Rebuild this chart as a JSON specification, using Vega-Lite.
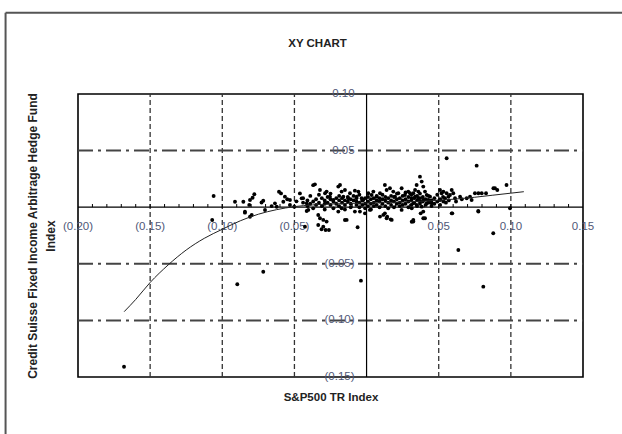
{
  "$schema": "https://vega.github.io/schema/vega-lite/v6.json",
  "width": 505,
  "height": 283,
  "autosize": "none",
  "padding": {"left": 78, "top": 94, "right": 39, "bottom": 57},
  "background": "white",
  "title": {"text": "XY CHART", "font": "Liberation Sans", "fontSize": 11.5, "fontWeight": "bold", "color": "#222", "frame": "group", "anchor": "middle", "offset": -38, "dx": -13},
  "config": {
    "view": {"stroke": "#000", "strokeWidth": 1.6},
    "axis": {"domain": false, "ticks": false, "labels": false, "grid": false, "titleFont": "Liberation Sans", "titleFontWeight": "bold", "titleColor": "#222"},
    "axisX": {"titleFontSize": 11.5, "titlePadding": 14},
    "axisY": {"titleFontSize": 12, "titlePadding": 21, "titleLineHeight": 18}
  },
  "datasets": {
    "curve": [
      {"x": -0.168, "y": -0.0923}, {"x": -0.16, "y": -0.0815}, {"x": -0.15, "y": -0.0665}, {"x": -0.1375, "y": -0.051},
      {"x": -0.125, "y": -0.0378}, {"x": -0.1125, "y": -0.0275}, {"x": -0.1, "y": -0.0195}, {"x": -0.0875, "y": -0.012},
      {"x": -0.075, "y": -0.0062}, {"x": -0.0625, "y": -0.0022}, {"x": -0.05, "y": 0.0005}, {"x": -0.0375, "y": 0.002},
      {"x": -0.025, "y": 0.0028}, {"x": -0.0125, "y": 0.0033}, {"x": 0, "y": 0.0037}, {"x": 0.0125, "y": 0.0041},
      {"x": 0.025, "y": 0.0046}, {"x": 0.0375, "y": 0.0052}, {"x": 0.05, "y": 0.0061}, {"x": 0.0625, "y": 0.0073},
      {"x": 0.075, "y": 0.0088}, {"x": 0.0875, "y": 0.0106}, {"x": 0.1, "y": 0.0124}, {"x": 0.109, "y": 0.0137}
    ],
    "pts": [
      {"x": -0.106, "y": 0.0099}, {"x": -0.107, "y": -0.0113}, {"x": -0.0912, "y": 0.0048}, {"x": -0.0854, "y": 0.0048},
      {"x": -0.0843, "y": -0.004}, {"x": -0.0813, "y": 0.002}, {"x": -0.0808, "y": 0.0064}, {"x": -0.079, "y": 0.0084},
      {"x": -0.0778, "y": 0.0114}, {"x": -0.0796, "y": -0.0069}, {"x": -0.0716, "y": 0.0057}, {"x": -0.0704, "y": -0.0025},
      {"x": -0.0658, "y": 0.001}, {"x": -0.0635, "y": 0.0034}, {"x": -0.0623, "y": 0.0004}, {"x": -0.0607, "y": 0.0137},
      {"x": -0.0593, "y": 0.0122}, {"x": -0.0577, "y": 0.0048}, {"x": -0.0566, "y": 0.0093}, {"x": -0.055, "y": 0.007},
      {"x": -0.0531, "y": 0.0064}, {"x": -0.0531, "y": 0.0019}, {"x": -0.0501, "y": 0.0004}, {"x": -0.0462, "y": 0.0122},
      {"x": -0.045, "y": 0.0078}, {"x": -0.0427, "y": -0.0172}, {"x": -0.0415, "y": 0.0034}, {"x": -0.037, "y": 0.0195},
      {"x": -0.0335, "y": -0.0069}, {"x": -0.0843, "y": -0.0048}, {"x": -0.0808, "y": -0.0084}, {"x": -0.0728, "y": 0.0042},
      {"x": -0.0486, "y": 0.0052},
      {"x": -0.1681, "y": -0.1409}, {"x": -0.0896, "y": -0.0681}, {"x": -0.0716, "y": -0.057}, {"x": -0.0039, "y": -0.0649},
      {"x": 0.0636, "y": -0.0378}, {"x": 0.0809, "y": -0.0702}, {"x": 0.0878, "y": -0.023}, {"x": 0.0555, "y": 0.0432},
      {"x": 0.0763, "y": 0.0367}, {"x": 0.0594, "y": -0.0054}, {"x": 0.0774, "y": -0.0034},
      {"x": -0.0323, "y": -0.0098}, {"x": -0.03, "y": -0.0112}, {"x": -0.0277, "y": -0.0127}, {"x": -0.0335, "y": -0.0157},
      {"x": -0.0312, "y": -0.0195}, {"x": -0.0284, "y": -0.0201}, {"x": -0.0261, "y": -0.0201}, {"x": -0.03, "y": -0.0172},
      {"x": -0.0062, "y": -0.0177},
      {"x": -0.0404, "y": -0.0024}, {"x": -0.0196, "y": -0.0039}, {"x": -0.0173, "y": -0.0009}, {"x": -0.0138, "y": -0.0112},
      {"x": -0.0081, "y": -0.0039}, {"x": -0.0046, "y": -0.0039}, {"x": -0.0011, "y": -0.0054}, {"x": 0.0023, "y": -0.0024},
      {"x": 0.0093, "y": -0.0083}, {"x": 0.0116, "y": -0.0068}, {"x": 0.0139, "y": -0.0098}, {"x": 0.0174, "y": -0.0112},
      {"x": 0.0127, "y": -0.0054}, {"x": 0.0243, "y": -0.0024}, {"x": 0.0324, "y": -0.0127}, {"x": 0.0143, "y": -0.0084},
      {"x": 0.0167, "y": -0.0107}, {"x": 0.0313, "y": -0.0128}, {"x": 0.0375, "y": -0.0054}, {"x": 0.0393, "y": -0.0098},
      {"x": -0.015, "y": -0.0113}, {"x": -0.0415, "y": -0.0034},
      {"x": -0.0358, "y": 0.0202}, {"x": -0.0323, "y": 0.0152}, {"x": -0.0288, "y": 0.0123}, {"x": -0.0277, "y": 0.0138},
      {"x": -0.0254, "y": 0.0093}, {"x": -0.0231, "y": 0.0064}, {"x": -0.0196, "y": 0.0182}, {"x": -0.0184, "y": 0.0196},
      {"x": -0.0173, "y": 0.0138}, {"x": -0.0161, "y": 0.0093}, {"x": -0.015, "y": 0.0152}, {"x": -0.0127, "y": 0.0079},
      {"x": -0.0115, "y": 0.0123}, {"x": -0.0081, "y": 0.0146}, {"x": -0.0069, "y": 0.0093}, {"x": -0.0057, "y": 0.0138},
      {"x": -0.0034, "y": 0.0079}, {"x": -0.0023, "y": 0.0064}, {"x": 0.0012, "y": 0.0123}, {"x": 0.0035, "y": 0.0108},
      {"x": 0.0047, "y": 0.0138}, {"x": 0.007, "y": 0.0093}, {"x": 0.0093, "y": 0.0123}, {"x": 0.0127, "y": 0.0196},
      {"x": 0.0139, "y": 0.0152}, {"x": 0.0162, "y": 0.0167}, {"x": 0.0185, "y": 0.0138}, {"x": 0.0197, "y": 0.0093},
      {"x": 0.022, "y": 0.0123}, {"x": 0.0243, "y": 0.0167}, {"x": 0.0266, "y": 0.0108}, {"x": 0.0289, "y": 0.0138},
      {"x": 0.0312, "y": 0.0079}, {"x": 0.0324, "y": 0.0123},
      {"x": 0.037, "y": 0.027}, {"x": 0.0382, "y": 0.0226}, {"x": 0.0347, "y": 0.0196}, {"x": 0.0393, "y": 0.0182},
      {"x": 0.0405, "y": 0.0138}, {"x": 0.0336, "y": 0.0152}, {"x": 0.0417, "y": 0.0108}, {"x": 0.0359, "y": 0.0079},
      {"x": 0.0428, "y": 0.0064}, {"x": 0.0324, "y": 0.0035}, {"x": 0.0382, "y": 0.0005}, {"x": 0.0313, "y": -0.001},
      {"x": 0.0393, "y": -0.0039}, {"x": 0.0405, "y": -0.0098}, {"x": 0.0324, "y": -0.0112}, {"x": 0.0301, "y": 0.0123},
      {"x": 0.044, "y": 0.0093}, {"x": 0.0451, "y": 0.0035}, {"x": 0.0359, "y": 0.0138}, {"x": 0.0336, "y": 0.0093},
      {"x": 0.0393, "y": 0.0064}, {"x": 0.0417, "y": 0.0035}, {"x": 0.0347, "y": 0.002}, {"x": 0.037, "y": 0.005},
      {"x": 0.0509, "y": 0.0152}, {"x": 0.052, "y": 0.0123}, {"x": 0.0532, "y": 0.0138}, {"x": 0.0555, "y": 0.0123},
      {"x": 0.0578, "y": 0.0108}, {"x": 0.059, "y": 0.0152}, {"x": 0.0601, "y": 0.0123}, {"x": 0.0544, "y": 0.0079},
      {"x": 0.0567, "y": 0.0093}, {"x": 0.0509, "y": 0.0064}, {"x": 0.0532, "y": 0.005}, {"x": 0.0613, "y": 0.0079},
      {"x": 0.059, "y": -0.0054}, {"x": 0.0648, "y": 0.0093}, {"x": 0.0694, "y": 0.0079}, {"x": 0.0717, "y": 0.0093},
      {"x": 0.0728, "y": 0.0064}, {"x": 0.0751, "y": 0.0123}, {"x": 0.0775, "y": 0.0123}, {"x": 0.0798, "y": 0.0123},
      {"x": 0.0828, "y": 0.0123}, {"x": 0.0775, "y": -0.0039}, {"x": 0.089, "y": 0.0167}, {"x": 0.0906, "y": 0.0152},
      {"x": 0.097, "y": 0.0196}, {"x": 0.0994, "y": -0.0009}, {"x": 0.0879, "y": 0.0167},
      {"x": -0.044, "y": 0.004}, {"x": -0.044, "y": 0.008}, {"x": -0.041, "y": 0.001}, {"x": -0.041, "y": 0.006},
      {"x": -0.039, "y": 0.01}, {"x": -0.039, "y": 0.003}, {"x": -0.037, "y": 0.005}, {"x": -0.037, "y": -0.001},
      {"x": -0.035, "y": 0.007}, {"x": -0.035, "y": 0.002}, {"x": -0.033, "y": 0.011}, {"x": -0.033, "y": 0.004},
      {"x": -0.031, "y": 0.001}, {"x": -0.031, "y": 0.008}, {"x": -0.029, "y": 0.006}, {"x": -0.029, "y": 0.003},
      {"x": -0.029, "y": -0.002}, {"x": -0.027, "y": 0.009}, {"x": -0.027, "y": 0.004}, {"x": -0.025, "y": 0.002},
      {"x": -0.025, "y": 0.007}, {"x": -0.025, "y": 0.012}, {"x": -0.023, "y": 0.005}, {"x": -0.023, "y": -0.001},
      {"x": -0.021, "y": 0.008}, {"x": -0.021, "y": 0.003}, {"x": -0.019, "y": 0.006}, {"x": -0.019, "y": 0.01},
      {"x": -0.019, "y": 0.001}, {"x": -0.017, "y": 0.004}, {"x": -0.017, "y": 0.008}, {"x": -0.015, "y": 0.002},
      {"x": -0.015, "y": 0.006}, {"x": -0.015, "y": -0.002}, {"x": -0.013, "y": 0.009}, {"x": -0.013, "y": 0.005},
      {"x": -0.011, "y": 0.003}, {"x": -0.011, "y": 0.007}, {"x": -0.011, "y": 0.0}, {"x": -0.009, "y": 0.006},
      {"x": -0.009, "y": 0.01}, {"x": -0.007, "y": 0.002}, {"x": -0.007, "y": 0.005}, {"x": -0.007, "y": 0.008},
      {"x": -0.005, "y": 0.004}, {"x": -0.005, "y": 0.0}, {"x": -0.005, "y": 0.011}, {"x": -0.003, "y": 0.006},
      {"x": -0.003, "y": 0.002}, {"x": -0.001, "y": 0.003}, {"x": -0.001, "y": 0.008}, {"x": -0.001, "y": -0.001},
      {"x": 0.001, "y": 0.005}, {"x": 0.001, "y": 0.001}, {"x": 0.001, "y": 0.009}, {"x": 0.003, "y": 0.007},
      {"x": 0.003, "y": 0.003}, {"x": 0.003, "y": -0.002}, {"x": 0.005, "y": 0.004}, {"x": 0.005, "y": 0.008},
      {"x": 0.005, "y": 0.001}, {"x": 0.007, "y": 0.006}, {"x": 0.007, "y": 0.002}, {"x": 0.007, "y": 0.01},
      {"x": 0.009, "y": 0.005}, {"x": 0.009, "y": 0.0}, {"x": 0.009, "y": 0.008}, {"x": 0.011, "y": 0.003},
      {"x": 0.011, "y": 0.007}, {"x": 0.011, "y": 0.011}, {"x": 0.013, "y": 0.006}, {"x": 0.013, "y": 0.001},
      {"x": 0.013, "y": 0.009}, {"x": 0.015, "y": 0.004}, {"x": 0.015, "y": 0.008}, {"x": 0.015, "y": -0.001},
      {"x": 0.017, "y": 0.006}, {"x": 0.017, "y": 0.002}, {"x": 0.017, "y": 0.01}, {"x": 0.019, "y": 0.005},
      {"x": 0.019, "y": 0.009}, {"x": 0.019, "y": 0.0}, {"x": 0.021, "y": 0.007}, {"x": 0.021, "y": 0.003},
      {"x": 0.021, "y": 0.012}, {"x": 0.023, "y": 0.004}, {"x": 0.023, "y": 0.008}, {"x": 0.023, "y": 0.001},
      {"x": 0.025, "y": 0.006}, {"x": 0.025, "y": 0.01}, {"x": 0.025, "y": 0.002}, {"x": 0.027, "y": 0.003},
      {"x": 0.027, "y": 0.007}, {"x": 0.027, "y": 0.013}, {"x": 0.029, "y": 0.005}, {"x": 0.029, "y": 0.009},
      {"x": 0.029, "y": 0.0}, {"x": 0.031, "y": 0.006}, {"x": 0.031, "y": 0.002}, {"x": 0.031, "y": 0.011},
      {"x": 0.033, "y": 0.004}, {"x": 0.033, "y": 0.008}, {"x": 0.035, "y": 0.006}, {"x": 0.035, "y": 0.001},
      {"x": 0.035, "y": 0.01}, {"x": 0.037, "y": 0.003}, {"x": 0.037, "y": 0.008}, {"x": 0.037, "y": 0.012},
      {"x": 0.039, "y": 0.005}, {"x": 0.039, "y": 0.009}, {"x": 0.041, "y": 0.002}, {"x": 0.041, "y": 0.007},
      {"x": 0.043, "y": 0.004}, {"x": 0.043, "y": 0.01}, {"x": 0.045, "y": 0.006}, {"x": 0.045, "y": 0.001},
      {"x": 0.047, "y": 0.008}, {"x": 0.047, "y": 0.003}, {"x": 0.049, "y": 0.005}, {"x": 0.049, "y": 0.011},
      {"x": 0.051, "y": 0.007}, {"x": 0.051, "y": 0.002}, {"x": 0.053, "y": 0.009}, {"x": 0.055, "y": 0.004},
      {"x": 0.057, "y": 0.006}, {"x": 0.062, "y": 0.005}, {"x": 0.066, "y": 0.007}
    ],
    "xlab": [
      {"v": -0.2, "t": "(0.20)"}, {"v": -0.15, "t": "(0.15)"}, {"v": -0.1, "t": "(0.10)"}, {"v": -0.05, "t": "(0.05)"},
      {"v": 0.05, "t": "0.05"}, {"v": 0.1, "t": "0.10"}, {"v": 0.15, "t": "0.15"}
    ],
    "ylab": [
      {"v": 0.1, "t": "0.10"}, {"v": 0.05, "t": "0.05"}, {"v": -0.05, "t": "(0.05)"}, {"v": -0.1, "t": "(0.10)"}, {"v": -0.15, "t": "(0.15)"}
    ],
    "minor": [
      {"v": -0.19}, {"v": -0.18}, {"v": -0.17}, {"v": -0.16}, {"v": -0.15}, {"v": -0.14}, {"v": -0.13}, {"v": -0.12},
      {"v": -0.11}, {"v": -0.1}, {"v": -0.09}, {"v": -0.08}, {"v": -0.07}, {"v": -0.06}, {"v": -0.05}, {"v": -0.04},
      {"v": -0.03}, {"v": -0.02}, {"v": -0.01}, {"v": 0.01}, {"v": 0.02}, {"v": 0.03}, {"v": 0.04}, {"v": 0.05},
      {"v": 0.06}, {"v": 0.07}, {"v": 0.08}, {"v": 0.09}, {"v": 0.1}, {"v": 0.11}, {"v": 0.12}, {"v": 0.13}, {"v": 0.14}
    ]
  },
  "layer": [
    {
      "data": {"values": [{}]},
      "mark": {"type": "rule", "color": "#555", "strokeWidth": 2},
      "encoding": {
        "x": {"datum": -0.2502, "scale": {"domain": [-0.2, 0.15], "nice": false, "zero": false}, "axis": {"title": "S&P500 TR Index"}},
        "x2": {"datum": 0.2},
        "y": {"datum": 0.1718, "scale": {"domain": [-0.15, 0.1], "nice": false, "zero": false}, "axis": {"title": ["Credit Suisse Fixed Income Arbitrage Hedge Fund", "Index"]}}
      }
    },
    {
      "data": {"values": [{}]},
      "mark": {"type": "rule", "color": "#555", "strokeWidth": 2},
      "encoding": {
        "x": {"datum": -0.2502, "scale": {"domain": [-0.2, 0.15], "nice": false, "zero": false}, "axis": {"title": "S&P500 TR Index"}},
        "y": {"datum": 0.1718, "scale": {"domain": [-0.15, 0.1], "nice": false, "zero": false}, "axis": {"title": ["Credit Suisse Fixed Income Arbitrage Hedge Fund", "Index"]}},
        "y2": {"datum": -0.21}
      }
    },
    {
      "data": {"values": [{"v": -0.15}, {"v": -0.1}, {"v": -0.05}, {"v": 0.05}, {"v": 0.1}]},
      "mark": {"type": "rule", "color": "#333", "strokeWidth": 1.3, "strokeDash": [5, 3]},
      "encoding": {
        "x": {"field": "v", "type": "quantitative", "scale": {"domain": [-0.2, 0.15], "nice": false, "zero": false}, "axis": {"title": "S&P500 TR Index"}},
        "y": {"datum": -0.15, "scale": {"domain": [-0.15, 0.1], "nice": false, "zero": false}, "axis": {"title": ["Credit Suisse Fixed Income Arbitrage Hedge Fund", "Index"]}},
        "y2": {"datum": 0.1}
      }
    },
    {
      "data": {"values": [{"v": 0.05}, {"v": -0.05}, {"v": -0.1}]},
      "mark": {"type": "rule", "color": "#444", "strokeWidth": 2, "strokeDash": [15, 5, 3, 5]},
      "encoding": {
        "x": {"datum": -0.2, "scale": {"domain": [-0.2, 0.15], "nice": false, "zero": false}, "axis": {"title": "S&P500 TR Index"}},
        "x2": {"datum": 0.15},
        "y": {"field": "v", "type": "quantitative", "scale": {"domain": [-0.15, 0.1], "nice": false, "zero": false}, "axis": {"title": ["Credit Suisse Fixed Income Arbitrage Hedge Fund", "Index"]}}
      }
    },
    {
      "data": {"values": [{}]},
      "mark": {"type": "rule", "color": "#000", "strokeWidth": 1.2},
      "encoding": {
        "x": {"datum": 0, "scale": {"domain": [-0.2, 0.15], "nice": false, "zero": false}, "axis": {"title": "S&P500 TR Index"}},
        "y": {"datum": -0.15, "scale": {"domain": [-0.15, 0.1], "nice": false, "zero": false}, "axis": {"title": ["Credit Suisse Fixed Income Arbitrage Hedge Fund", "Index"]}},
        "y2": {"datum": 0.1}
      }
    },
    {
      "data": {"values": [{}]},
      "mark": {"type": "rule", "color": "#000", "strokeWidth": 1.2},
      "encoding": {
        "x": {"datum": -0.2, "scale": {"domain": [-0.2, 0.15], "nice": false, "zero": false}, "axis": {"title": "S&P500 TR Index"}},
        "x2": {"datum": 0.15},
        "y": {"datum": 0, "scale": {"domain": [-0.15, 0.1], "nice": false, "zero": false}, "axis": {"title": ["Credit Suisse Fixed Income Arbitrage Hedge Fund", "Index"]}}
      }
    },
    {
      "data": {"name": "minor"},
      "mark": {"type": "rule", "color": "#000", "strokeWidth": 1},
      "encoding": {
        "x": {"field": "v", "type": "quantitative", "scale": {"domain": [-0.2, 0.15], "nice": false, "zero": false}, "axis": {"title": "S&P500 TR Index"}},
        "y": {"datum": 0, "scale": {"domain": [-0.15, 0.1], "nice": false, "zero": false}, "axis": {"title": ["Credit Suisse Fixed Income Arbitrage Hedge Fund", "Index"]}},
        "y2": {"datum": 0.0028}
      }
    },
    {
      "data": {"name": "xlab"},
      "mark": {"type": "text", "font": "Liberation Sans", "fontSize": 11.5, "color": "#505878", "align": "center", "baseline": "middle", "dy": 20},
      "encoding": {
        "x": {"field": "v", "type": "quantitative", "scale": {"domain": [-0.2, 0.15], "nice": false, "zero": false}, "axis": {"title": "S&P500 TR Index"}},
        "y": {"datum": 0, "scale": {"domain": [-0.15, 0.1], "nice": false, "zero": false}, "axis": {"title": ["Credit Suisse Fixed Income Arbitrage Hedge Fund", "Index"]}},
        "text": {"field": "t"}
      }
    },
    {
      "data": {"name": "ylab"},
      "mark": {"type": "text", "font": "Liberation Sans", "fontSize": 11.5, "color": "#505878", "align": "right", "baseline": "middle", "dx": -12},
      "encoding": {
        "x": {"datum": 0, "scale": {"domain": [-0.2, 0.15], "nice": false, "zero": false}, "axis": {"title": "S&P500 TR Index"}},
        "y": {"field": "v", "type": "quantitative", "scale": {"domain": [-0.15, 0.1], "nice": false, "zero": false}, "axis": {"title": ["Credit Suisse Fixed Income Arbitrage Hedge Fund", "Index"]}},
        "text": {"field": "t"}
      }
    },
    {
      "data": {"name": "pts"},
      "mark": {"type": "point", "shape": "circle", "filled": true, "color": "#000", "opacity": 1, "size": 15},
      "encoding": {
        "x": {"field": "x", "type": "quantitative", "scale": {"domain": [-0.2, 0.15], "nice": false, "zero": false}, "axis": {"title": "S&P500 TR Index"}},
        "y": {"field": "y", "type": "quantitative", "scale": {"domain": [-0.15, 0.1], "nice": false, "zero": false}, "axis": {"title": ["Credit Suisse Fixed Income Arbitrage Hedge Fund", "Index"]}}
      }
    },
    {
      "data": {"name": "curve"},
      "mark": {"type": "line", "color": "#222", "strokeWidth": 1, "interpolate": "monotone"},
      "encoding": {
        "x": {"field": "x", "type": "quantitative", "scale": {"domain": [-0.2, 0.15], "nice": false, "zero": false}, "axis": {"title": "S&P500 TR Index"}},
        "y": {"field": "y", "type": "quantitative", "scale": {"domain": [-0.15, 0.1], "nice": false, "zero": false}, "axis": {"title": ["Credit Suisse Fixed Income Arbitrage Hedge Fund", "Index"]}}
      }
    }
  ]
}
